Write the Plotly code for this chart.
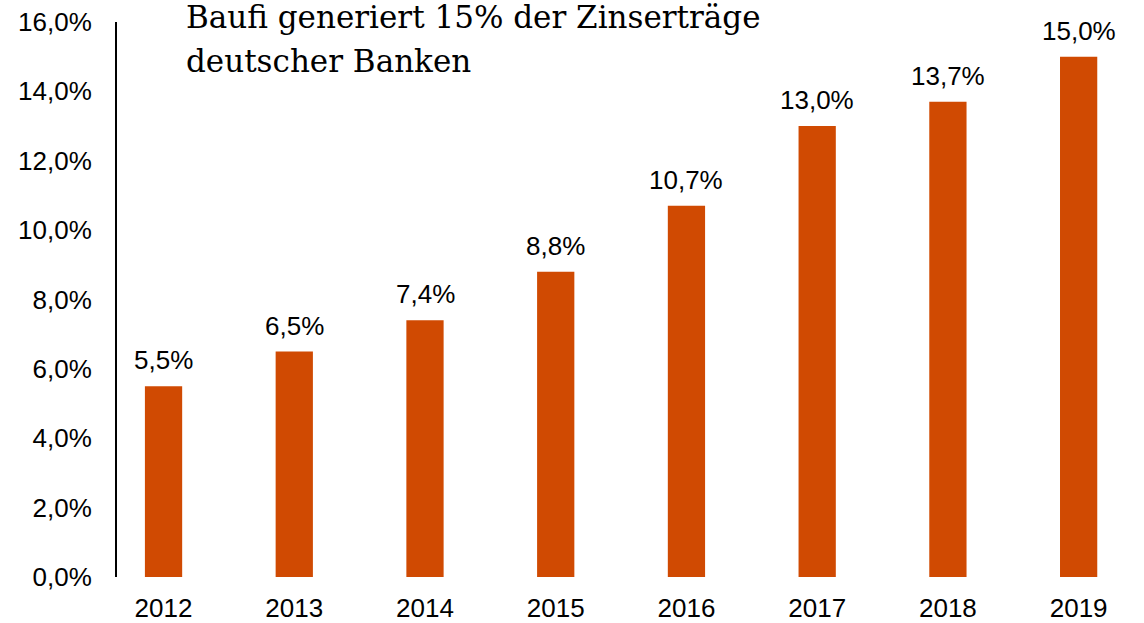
import plotly.graph_objects as go

years = ["2012", "2013", "2014", "2015", "2016", "2017", "2018", "2019"]
values = [5.5, 6.5, 7.4, 8.8, 10.7, 13.0, 13.7, 15.0]
labels = ["5,5%", "6,5%", "7,4%", "8,8%", "10,7%", "13,0%", "13,7%", "15,0%"]
tick_vals = [0, 2, 4, 6, 8, 10, 12, 14, 16]
tick_text = ["0,0%", "2,0%", "4,0%", "6,0%", "8,0%", "10,0%", "12,0%", "14,0%", "16,0%"]
title_lines = ["Baufi generiert 15% der Zinserträge", "deutscher Banken"]

color = "#D04A02"
W, H = 1144, 623
ml, mt, mb = 117, 22, 46
ph = H - mt - mb
sans = "Liberation Sans, Arial, sans-serif"

fig = go.Figure()
fig.add_trace(go.Bar(x=list(range(len(years))), y=values, marker_color=color,
                     marker_line_width=0, width=0.285, cliponaxis=False, hoverinfo="skip"))

for i, (v, t) in enumerate(zip(values, labels)):
    fig.add_annotation(x=i, y=v, text=t, showarrow=False, yanchor="bottom",
                       yshift=9, font=dict(family=sans, size=26, color="#000"))

for line, ypix in zip(title_lines, [17, 61]):
    fig.add_annotation(xref="paper", yref="paper", x=(184 - ml) / (W - ml), xanchor="left",
                       y=1 + (mt - ypix) / ph, yanchor="middle", text=line,
                       showarrow=False, align="left",
                       font=dict(family="DejaVu Serif, serif", size=31, color="#000"))

fig.update_layout(
    width=W, height=H,
    margin=dict(l=ml, r=0, t=mt, b=mb, autoexpand=False),
    paper_bgcolor="white", plot_bgcolor="white",
    showlegend=False,
    xaxis=dict(range=[-0.356, 7.5], tickvals=list(range(len(years))), ticktext=years,
               showgrid=False, zeroline=False, showline=False, ticks="",
               tickfont=dict(family=sans, size=26, color="#000"),
               ticklabelstandoff=13, automargin=False),
    yaxis=dict(range=[0, 16], tickvals=tick_vals, ticktext=tick_text,
               showgrid=False, zeroline=False, showline=True, linecolor="#000", linewidth=2,
               ticks="", tickfont=dict(family=sans, size=26, color="#000"),
               ticklabelstandoff=18, automargin=False),
)

fig.write_html("out.html", config={"displayModeBar": False},
               post_script="document.body.style.margin='0';")
